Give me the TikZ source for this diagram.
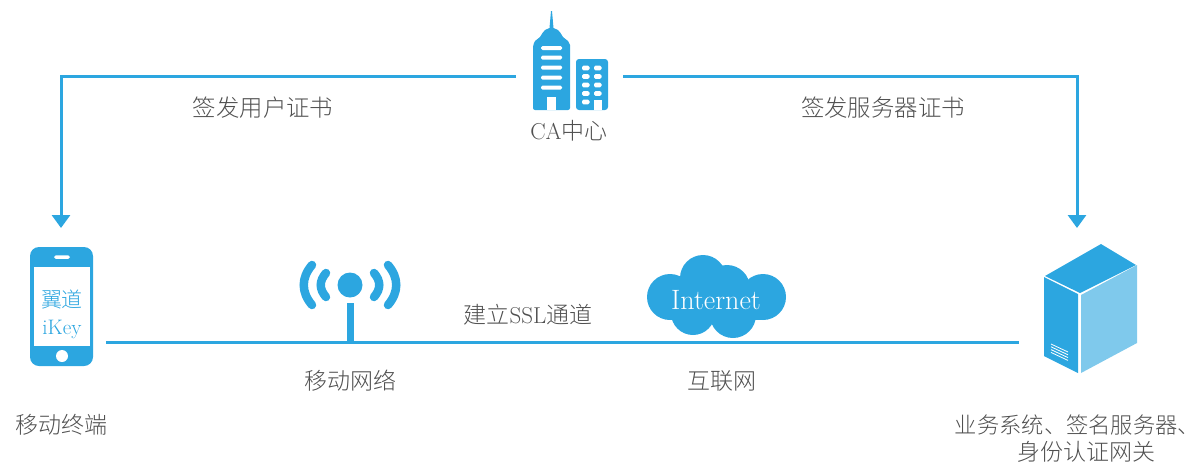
\documentclass[tikz,border=0pt]{standalone}
\usepackage{fontspec}
\newfontfamily\cjk{Noto Sans CJK SC Light}
\usetikzlibrary{arrows.meta}
\definecolor{iconblue}{HTML}{2CA6E0}
\definecolor{sideblue}{HTML}{7FC9EC}
\definecolor{labelgray}{HTML}{505050}
\tikzset{
    wire/.style={draw=iconblue,line width=3pt},
    label/.style={text=labelgray,inner sep=0pt,font=\fontsize{23}{26}\selectfont\cjk},
    tip/.style={-{Stealth[length=13pt,width=18pt,inset=0pt]}},
    winpane/.style={fill=white,rounded corners=1.5pt},
    wave/.style={draw=iconblue,line width=8.5pt,line cap=round},
}
\begin{document}
\begin{tikzpicture}[x=1pt,y=-1pt]
    \useasboundingbox (0,0) rectangle (1200,475);
    % end points of the lines
    \coordinate (caleft) at (516,76);
    \coordinate (caright) at (623,76);
    \coordinate (phonetop) at (61,228);
    \coordinate (servertop) at (1077,228);
    \coordinate (phoneside) at (106,342);
    \coordinate (serverside) at (1019,342);
    \coordinate (masttop) at (350,303);
    \coordinate (mastfoot) at (350,342);
    \draw[wire,tip] (caleft) -| (phonetop);
    \draw[wire,tip] (caright) -| (servertop);
    \draw[wire] (phoneside) -- (serverside);
    \draw[draw=iconblue,line width=7pt] (masttop) -- (mastfoot);
    % CA building
    \fill[iconblue] (551,11) -- (552,11) -- (553.5,28) -- (558,30) -- (560.5,33) -- (563,37)
        -- (568,41) -- (570,45) -- (570,107) [rounded corners=2pt] -- (570,110) -- (533,110) -- (533,45)
        [sharp corners] -- (535,41) -- (540,37) -- (542.5,33) -- (545,30) -- (549.5,28) -- cycle;
    \foreach \y in {48,57.5,67.5,77.5,87.5}
        \fill[winpane] (541,\y-2) rectangle (562,\y+2);
    \fill[white] (547,97) rectangle (556,110);
    \fill[iconblue,rounded corners=3pt] (576,59) rectangle (608,110);
    \foreach \y in {68,76.5,85,93.5}
        \foreach \x in {582,594}
            \fill[winpane] (\x,\y-2.3) rectangle (\x+7.5,\y+2.3);
    \fill[winpane] (582,99.7) rectangle (589.5,104.3);
    \fill[white] (594,100) rectangle (601.5,110);
    \node[label] (calabel) at (569,131) {{\rmfamily CA}中心};
    % phone
    \fill[iconblue,rounded corners=9pt] (30,247) rectangle (93,366);
    \fill[white] (34,267) rectangle (90,346);
    \fill[white,rounded corners=1.7pt] (54,255.3) rectangle (70,258.8);
    \fill[white] (62,356) circle (6);
    \node[text=iconblue,inner sep=0pt,font=\fontsize{21}{24}\selectfont\cjk] (keyname) at (62,300) {翼道};
    \node[text=iconblue,inner sep=0pt,font=\fontsize{21}{24}\selectfont] (keytype) at (62,329) {iKey};
    % antenna
    \fill[iconblue] (350,285) circle (12.5);
    \draw[wave] (326,273) .. controls (319,281) and (319,289) .. (326,297);
    \draw[wave] (312,265) .. controls (301,278) and (301,292) .. (312,305);
    \draw[wave] (374,273) .. controls (381,281) and (381,289) .. (374,297);
    \draw[wave] (388,265) .. controls (399,278) and (399,292) .. (388,305);
    % cloud
    \foreach \cx/\cy/\cr in {703/278/23,727/288/23,670/297/23,763/297/23,693/313/22,733/315/23}
        \fill[iconblue] (\cx,\cy) circle (\cr);
    \fill[iconblue] (670,285) rectangle (763,320);
    \node[text=white,inner sep=0pt,font=\fontsize{28}{30}\selectfont] (cloudname) at (716,300) {Internet};
    % server
    \fill[iconblue] (1101,244) -- (1136,265) -- (1080,293) -- (1045,276) -- cycle;
    \fill[iconblue] (1044,277) -- (1078,294) -- (1078,373) -- (1044,356) -- cycle;
    \fill[sideblue] (1081,295) -- (1137,265) -- (1137,343) -- (1081,373) -- cycle;
    \foreach \y in {344,346.8,349.6,352.4}
        \draw[white,line width=.8pt] (1051,\y) -- (1068,\y+8);
    % labels
    \node[label,font=\fontsize{23.4}{26}\selectfont\cjk] (userlabel) at (263,108) {签发用户证书};
    \node[label,font=\fontsize{23.4}{26}\selectfont\cjk] (serverlabel) at (883,108) {签发服务器证书};
    \node[label] (ssllabel) at (528,315) {建立{\rmfamily SSL}通道};
    \node[label] (mobilelabel) at (350,381) {移动网络};
    \node[label] (netlabel) at (722,381) {互联网};
    \node[label] (termlabel) at (62,425) {移动终端};
    \node[label,font=\fontsize{22.3}{26}\selectfont\cjk] (bizlabel) at (1077.5,425) {业务系统、签名服务器、};
    \node[label] (authlabel) at (1086,452) {身份认证网关};
\end{tikzpicture}
\end{document}
